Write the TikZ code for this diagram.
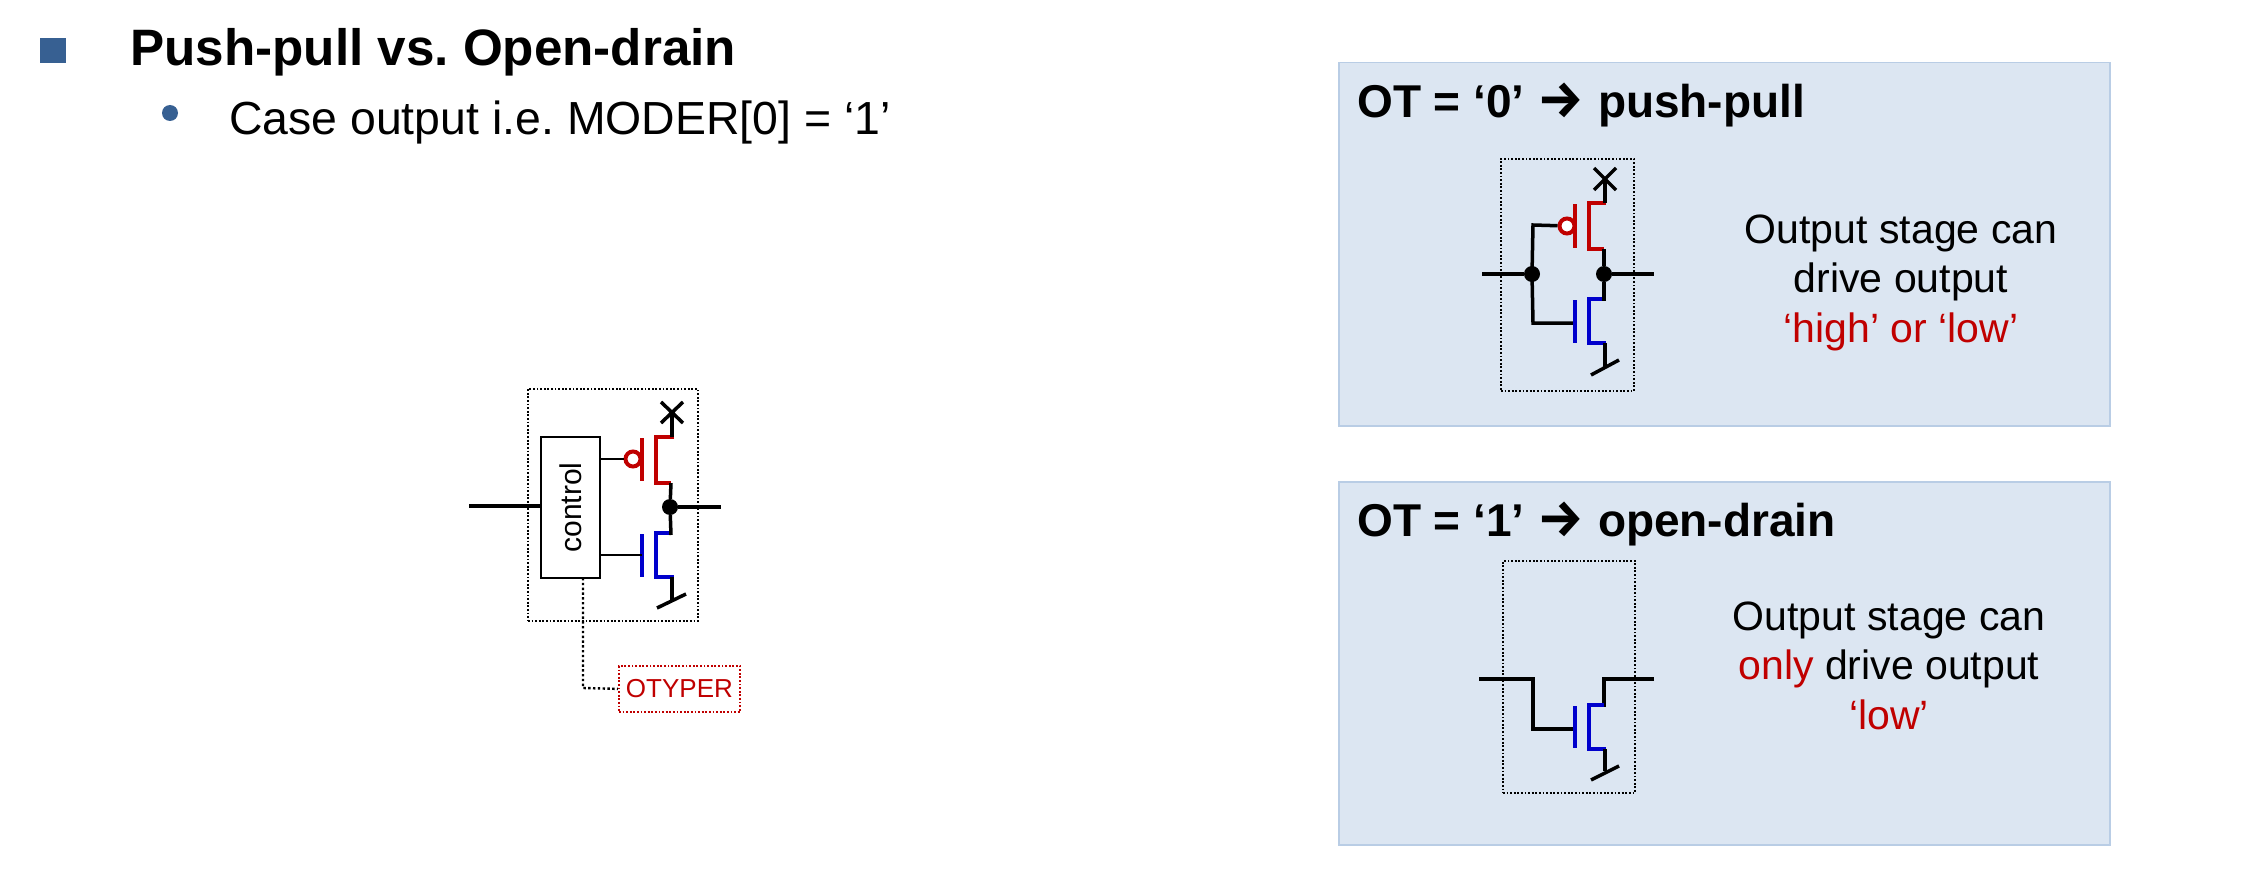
\documentclass[tikz,border=0pt]{standalone}
\usepackage{fontspec}
\setmainfont{Liberation Sans}
\newfontfamily\symfont{Fira Sans}
\definecolor{panelfill}{HTML}{DCE6F2}
\definecolor{panelline}{HTML}{B9CDE5}
\definecolor{bulletblue}{HTML}{376092}
\definecolor{pmos}{HTML}{C00000}
\definecolor{nmos}{HTML}{0000CC}
\newcommand{\fs}[1]{\fontsize{#1}{#1}\selectfont}
\newcommand{\headarrow}{{\symfont\fs{52}→}\hspace{1pt}}
\frenchspacing
\tikzset{
 wire/.style={line width=3.5pt,black,line cap=butt,line join=miter},
 thinwire/.style={line width=1.8pt,black},
 ptran/.style={line width=4pt,pmos},
 ntran/.style={line width=4pt,nmos},
 dotbox/.style={draw,line width=1.8pt,dash pattern=on 1.8pt off 1.8pt,inner sep=0pt},
 dotline/.style={line width=2.4pt,dash pattern=on 2.4pt off 2.4pt},
 panel/.style={draw=panelline,fill=panelfill,line width=1.5pt},
 junction/.style={circle,fill=black,inner sep=0pt,minimum size=16pt},
 bubble/.style={circle,draw=pmos,fill=white,line width=4pt,inner sep=0pt,minimum size=15pt},
 head/.style={anchor=base west,font=\fs{46}\bfseries,inner sep=0pt},
 body/.style={anchor=base,font=\fs{41},inner sep=0pt},
}
\begin{document}
\begin{tikzpicture}[x=1pt,y=-1pt]
\useasboundingbox (0,0) rectangle (2244,888);
\fill[white] (0,0) rectangle (2244,888);
% header
\node[fill=bulletblue,anchor=north west,minimum width=26pt,minimum height=25pt,inner sep=0pt] (sq) at (40,38) {};
\node[anchor=base west,inner sep=0pt,font=\fs{51.2}\bfseries] (title) at (130,66) {Push-pull vs. Open-drain};
\node[circle,fill=bulletblue,inner sep=0pt,minimum size=16pt] (dot) at (170,113) {};
\node[anchor=base west,inner sep=0pt,font=\fs{46.4}] (sub) at (229,135) {Case output i.e. MODER[0] = ‘1’};
% panels
\node[panel,anchor=north west,minimum width=771pt,minimum height=363pt,inner sep=0pt] (p1) at (1338,62) {};
\node[panel,anchor=north west,minimum width=771pt,minimum height=363pt,inner sep=0pt] (p2) at (1338,481) {};
\node[head] (h1) at (1357,118) {OT = ‘0’ \headarrow{} push-pull};
\node[head] (h2) at (1357,536) {OT = ‘1’ \headarrow{} open-drain};
\node[body] (b1a) at (1901,243) {Output stage can};
\node[body] (b1b) at (1901,292) {drive output};
\node[body,text=pmos] (b1c) at (1901,342) {‘high’ or ‘low’};
\node[body] (b2a) at (1889,630) {Output stage can};
\node[body] (b2b) at (1889,679) {{\color{pmos}only} drive output};
\node[body,text=pmos] (b2c) at (1889,729) {‘low’};

% ---- left circuit
\node[dotbox,anchor=north west,minimum width=170pt,minimum height=232pt] (lbox) at (527,388) {};
\node[draw,thinwire,fill=white,anchor=north west,minimum width=59pt,minimum height=141pt,inner sep=0pt] (ctl) at (540,436) {};
\node[rotate=90,font=\fs{30},inner sep=0pt] (ctltxt) at (ctl.center) {control};
\node[dotbox,draw=pmos,anchor=north west,minimum width=121pt,minimum height=46pt,text=pmos,font=\fs{26}] (ot) at (618,665) {OTYPER};
\coordinate (lin) at (469,506);
\draw[wire] (lin) -- (lin -| ctl.west);
\node[junction] (lj) at (670,507) {};
\coordinate (lout) at (721,507);
\draw[wire] (lj) -- (lout);
% pmos
\coordinate (lpg1) at (642,438); \coordinate (lpg2) at (642,481);
\coordinate (lps1) at (674,437); \coordinate (lps2) at (656,437); \coordinate (lps3) at (656,483); \coordinate (lps4) at (671,483);
\draw[ptran] (lpg1) -- (lpg2);
\draw[ptran] (lps1) -- (lps2) -- (lps3) -- (lps4);
\node[bubble] (lb) at (633,459) {};
\coordinate (lcp) at (599,459);
\draw[thinwire] (lcp) -- (lb);
% nmos
\coordinate (lng1) at (642,534); \coordinate (lng2) at (642,577);
\coordinate (lns1) at (670,533); \coordinate (lns2) at (656,533); \coordinate (lns3) at (656,577); \coordinate (lns4) at (674,577);
\draw[ntran] (lng1) -- (lng2);
\draw[ntran] (lns1) -- (lns2) -- (lns3) -- (lns4);
\coordinate (lcn) at (599,555); \coordinate (lcn2) at (642,555);
\draw[thinwire] (lcn) -- (lcn2);
% rails
\coordinate (lx) at (672,412);
\draw[wire] (672,437) -- (lx);
\draw[wire] (661,402) -- (683,423) (683,402) -- (661,423);
\draw[wire] (671,483) -- (lj) -- (671,535);
\coordinate (lg) at (672,600);
\draw[wire] (672,577) -- (lg);
\draw[wire] (657,608) -- (686,594);
\coordinate (lt) at (583,688);
\draw[dotline] (583,578) -- (lt) -- (ot.west);

% ---- panel 1 circuit
\node[dotbox,anchor=north west,minimum width=133pt,minimum height=232pt] (abox) at (1500,158) {};
\node[junction] (aj1) at (1532,274) {};
\node[junction] (aj2) at (1604,274) {};
\coordinate (ain) at (1482,274); \coordinate (aout) at (1654,274);
\draw[wire] (ain) -- (aj1);
\draw[wire] (aj2) -- (aout);
\coordinate (apg1) at (1575,204); \coordinate (apg2) at (1575,248);
\draw[ptran] (apg1) -- (apg2);
\draw[ptran] (1606,203) -- (1589,203) -- (1589,249) -- (1604,249);
\node[bubble] (ab) at (1567,226) {};
\coordinate (agp) at (1533,225); \coordinate (agn) at (1533,323); \coordinate (agn2) at (1575,323);
\draw[wire] (aj1.center) -- (agp) -- (ab);
\draw[wire] (aj1.center) -- (agn) -- (agn2);
\coordinate (ang1) at (1575,300); \coordinate (ang2) at (1575,343);
\draw[ntran] (ang1) -- (ang2);
\draw[ntran] (1604,299) -- (1589,299) -- (1589,343) -- (1606,343);
\draw[wire] (1604,249) -- (aj2) -- (1604,301);
\draw[wire] (1605,203) -- (1605,179);
\draw[wire] (1594,168) -- (1616,190) (1616,168) -- (1594,190);
\draw[wire] (1605,343) -- (1605,367);
\draw[wire] (1591,375) -- (1619,360);

% ---- panel 2 circuit
\node[dotbox,anchor=north west,minimum width=132pt,minimum height=232pt] (cbox) at (1502,560) {};
\coordinate (cin) at (1479,679); \coordinate (cgk) at (1533,679); \coordinate (cgb) at (1533,729); \coordinate (cge) at (1575,729);
\draw[wire] (cin) -- (cgk) -- (cgb) -- (cge);
\coordinate (cout) at (1654,679); \coordinate (cdk) at (1604,679); \coordinate (cdb) at (1604,707);
\draw[wire] (cout) -- (cdk) -- (cdb);
\coordinate (cng1) at (1575,706); \coordinate (cng2) at (1575,748);
\draw[ntran] (cng1) -- (cng2);
\draw[ntran] (1604,705) -- (1589,705) -- (1589,749) -- (1606,749);
\draw[wire] (1605,749) -- (1605,771);
\draw[wire] (1591,780) -- (1619,766);
\end{tikzpicture}
\end{document}
